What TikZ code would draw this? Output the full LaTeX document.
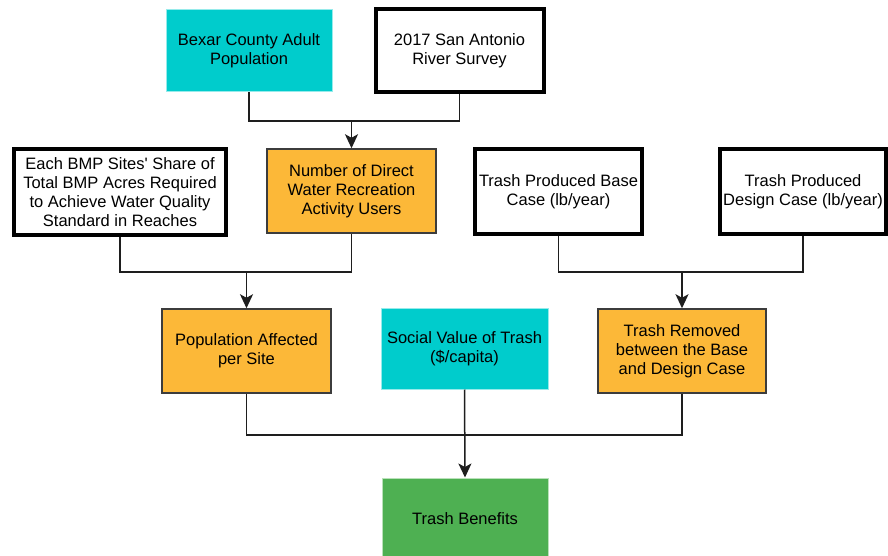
\documentclass[tikz,border=0pt]{standalone}
\usepackage{fontspec}
\setmainfont{Liberation Sans}
\usetikzlibrary{arrows.meta}

\definecolor{tealfill}{RGB}{0,204,204}
\definecolor{tealedge}{RGB}{150,235,235}
\definecolor{amberfill}{RGB}{252,184,56}
\definecolor{amberedge}{RGB}{60,60,60}
\definecolor{greenfill}{RGB}{78,176,82}
\definecolor{greenedge}{RGB}{185,225,185}
\definecolor{linkgray}{RGB}{30,30,30}

\tikzset{
  box/.style={rectangle, inner sep=0pt, align=center, text=black,
    font=\fontsize{16.5}{19.2}\selectfont},
  inputbox/.style={box, fill=tealfill, draw=tealedge, line width=1pt},
  sourcebox/.style={box, fill=white, draw=black, line width=4pt},
  calcbox/.style={box, fill=amberfill, draw=amberedge, line width=1.5pt},
  resultbox/.style={box, fill=greenfill, draw=greenedge, line width=1pt},
  link/.style={draw=linkgray, line width=1.5pt},
  arrowlink/.style={link, -{Stealth[length=14pt, width=13pt, inset=3.5pt]}}
}

\begin{document}
\begin{tikzpicture}[x=1pt, y=-1pt]
  \clip (0,0) rectangle (888,556);
  \fill[white] (0,0) rectangle (888,556);

  % top row: data sources
  \node[inputbox, minimum width=166pt, minimum height=82pt] (bexar) at (249,51)
    {Bexar County Adult\\Population};
  \node[sourcebox, minimum width=168pt, minimum height=83pt] (survey) at (459.5,50.5)
    {2017 San Antonio\\River Survey};

  % second row
  \node[sourcebox, minimum width=212pt, minimum height=86pt] (bmp) at (120,192)
    {Each BMP Sites\textquotesingle\ Share of\\Total BMP Acres Required\\to Achieve Water Quality\\Standard in Reaches};
  \node[calcbox, minimum width=169pt, minimum height=84pt] (users) at (351.5,191)
    {Number of Direct\\Water Recreation\\Activity Users};
  \node[sourcebox, minimum width=167pt, minimum height=85pt] (base) at (558.5,191.5)
    {Trash Produced Base\\Case (lb/year)};
  \node[sourcebox, minimum width=166pt, minimum height=85pt] (design) at (803,191.5)
    {Trash Produced\\Design Case (lb/year)};

  % third row
  \node[calcbox, minimum width=169pt, minimum height=84pt] (popsite) at (246.5,351)
    {Population Affected\\per Site};
  \node[inputbox, minimum width=167pt, minimum height=81pt] (social) at (464.5,348.5)
    {Social Value of Trash\\(\$/capita)};
  \node[calcbox, minimum width=168pt, minimum height=84pt] (removed) at (682,351)
    {Trash Removed\\between the Base\\and Design Case};

  % result
  \node[resultbox, minimum width=166pt, minimum height=82pt] (benefits) at (465,519)
    {Trash Benefits};

  % junction points of the merging connectors
  \coordinate (jtop) at (351.5,121);
  \coordinate (jleft) at (246.5,272);
  \coordinate (jright) at (682,272);

  \draw[link] (bexar.south) |- (jtop) -| (survey.south);
  \draw[arrowlink] (jtop) -- (users.north);

  \draw[link] (bmp.south) |- (jleft) -| (users.south);
  \draw[arrowlink] (jleft) -- (popsite.north);

  \draw[link] (base.south) |- (jright) -| (design.south);
  \draw[arrowlink] (jright) -- (removed.north);

  \draw[link] (popsite.south) |- (social.south |- 0,435) -| (removed.south);
  \draw[arrowlink] (social.south) -- (benefits.north);
\end{tikzpicture}
\end{document}
